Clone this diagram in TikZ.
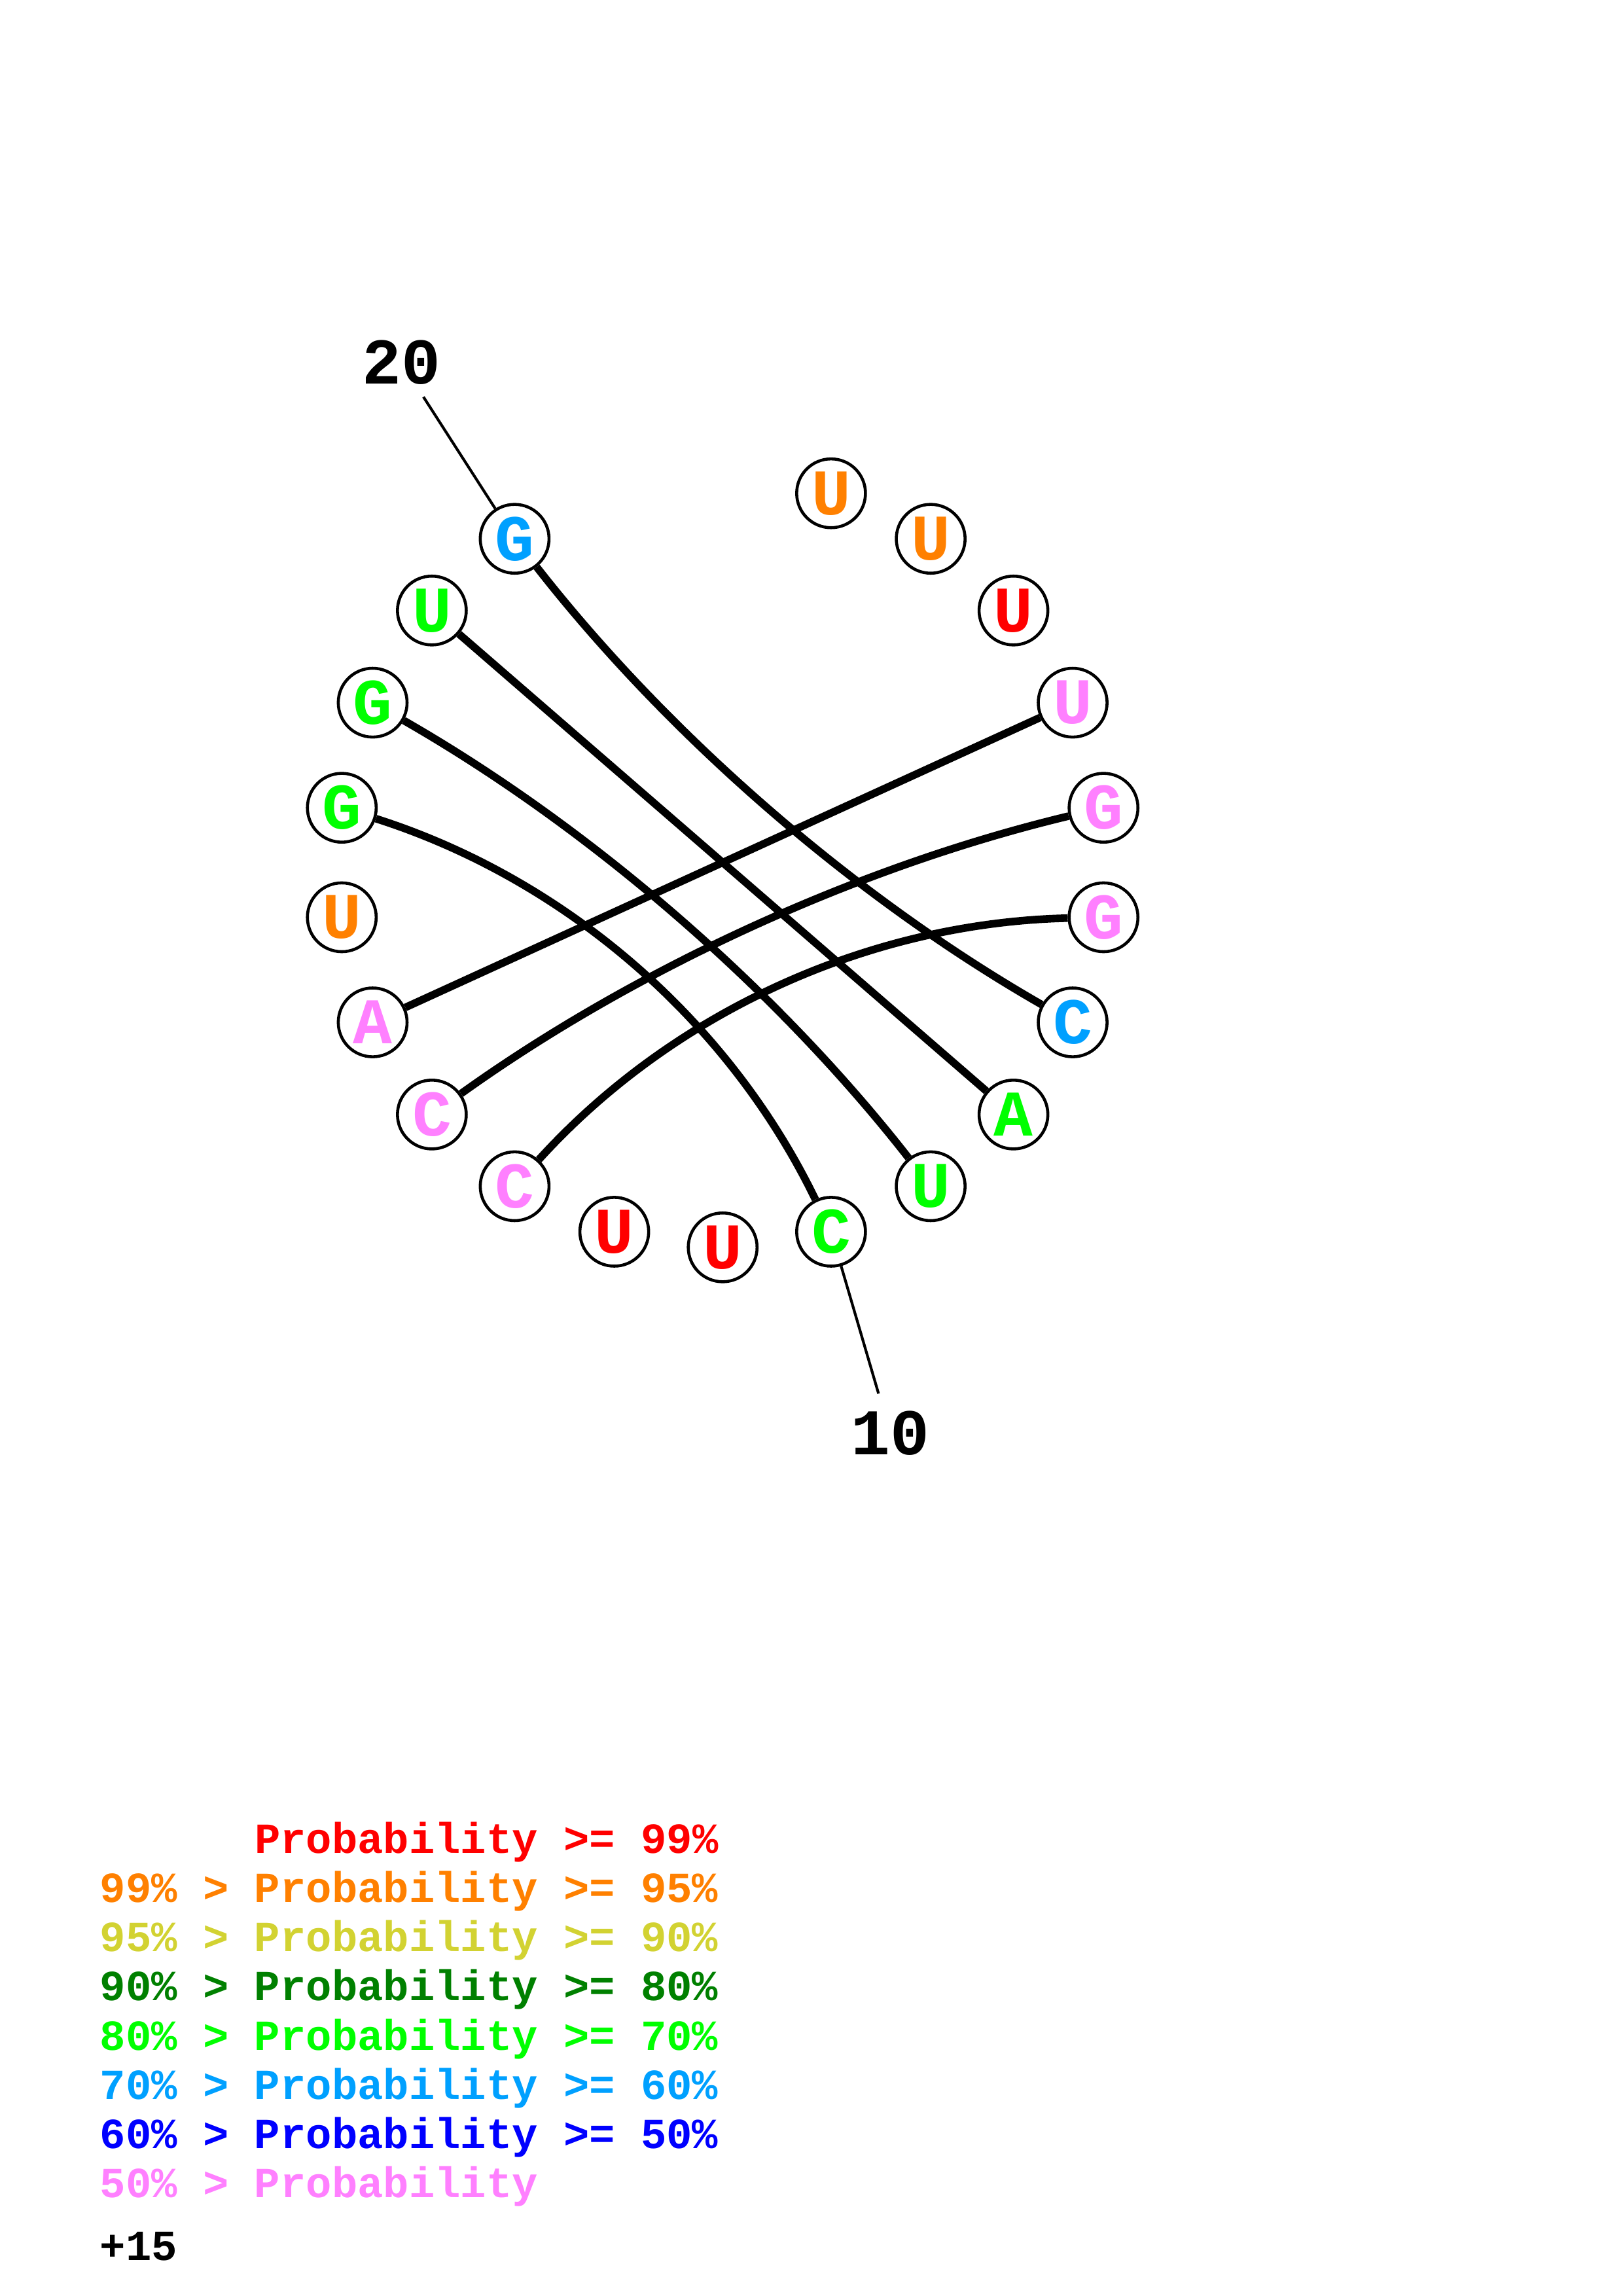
\documentclass[tikz,border=0pt]{standalone}
\usepackage{fontspec}
\setmonofont{Liberation Mono}
\usetikzlibrary{calc}
\definecolor{probRed}{RGB}{255,0,0}
\definecolor{probOrg}{RGB}{255,128,0}
\definecolor{probYel}{RGB}{210,210,50}
\definecolor{probDkG}{RGB}{0,128,0}
\definecolor{probGrn}{RGB}{0,255,0}
\definecolor{probLtB}{RGB}{0,160,255}
\definecolor{probBlu}{RGB}{0,0,255}
\definecolor{probPnk}{RGB}{255,128,255}

\begin{document}
\begin{tikzpicture}[font=\ttfamily\bfseries]
  \tikzset{nuc/.style={circle,draw=black,line width=1.1pt,fill=white,inner sep=0pt,minimum size=0.89cm,text=#1,font=\ttfamily\bfseries\fontsize{24}{24}\selectfont},
    pairarc/.style={line width=2.8pt,black},
    numline/.style={line width=1pt,black},
    numlab/.style={inner sep=0pt,font=\ttfamily\bfseries\fontsize{24}{24}\selectfont},
    keyrow/.style={anchor=base west,inner sep=0pt,text=#1,font=\ttfamily\bfseries\fontsize{15.8}{15.8}\selectfont}}
  \useasboundingbox (0,0) rectangle (20.99,-29.70);
  \coordinate (ctr) at (9.349,-11.157);
  % bases round the circle, gap at the top
  \foreach \i/\b/\c in {1/U/probOrg,2/U/probOrg,3/U/probRed,4/U/probPnk,5/G/probPnk,6/G/probPnk,7/C/probLtB,8/A/probGrn,9/U/probGrn,10/C/probGrn,11/U/probRed,12/U/probRed,13/C/probPnk,14/C/probPnk,15/A/probPnk,16/U/probOrg,17/G/probGrn,18/G/probGrn,19/U/probGrn,20/G/probLtB} {
    \pgfmathsetmacro\ang{-90+(11-\i)*360/22}
    \node[nuc=\c] (n\i) at ($(ctr)+(\ang:4.978)$) {\b};
  }
  % pairs (quadratic bends written as cubics)
  \foreach \a/\b in {20/7,19/8,18/9,17/10,15/4,14/5,13/6} {
    \coordinate (mid\a) at ($(n\a)!0.5!(n\b)$);
    \coordinate (ctl\a) at ($(mid\a)!0.667!(ctr)$);
    \coordinate (ca\a) at ($(n\a)!0.667!(ctl\a)$);
    \coordinate (cb\a) at ($(n\b)!0.667!(ctl\a)$);
    \draw[pairarc] (n\a) .. controls (ca\a) and (cb\a) .. (n\b);
  }
  % numbering
  \coordinate (e20) at ($(ctr)+(122.73:7.16)$);
  \node[numlab] (lab20) at ($(ctr)+(122.73:7.69)$) {20};
  \draw[numline] (n20) -- (e20);
  \coordinate (e10) at ($(ctr)+(-73.64:7.16)$);
  \node[numlab] (lab10) at ($(ctr)+(-73.64:7.69)$) {10};
  \draw[numline] (n10) -- (e10);
  % colour key
  \foreach \k/\c/\t in {0/probRed/{\phantom{99\% > }Probability >= 99\%},1/probOrg/{99\% > Probability >= 95\%},2/probYel/{95\% > Probability >= 90\%},3/probDkG/{90\% > Probability >= 80\%},4/probGrn/{80\% > Probability >= 70\%},5/probLtB/{70\% > Probability >= 60\%},6/probBlu/{60\% > Probability >= 50\%},7/probPnk/{50\% > Probability}} {
    \node[keyrow=\c] (key\k) at (1.287,{-23.97-\k*0.6367}) {\t};
  }
  \node[keyrow=black] (offset) at (1.287,-29.235) {+15};
\end{tikzpicture}
\end{document}
